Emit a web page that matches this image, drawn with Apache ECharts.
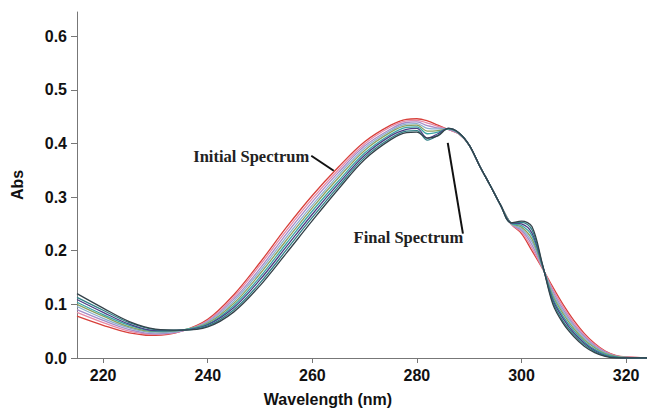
<!DOCTYPE html>
<html>
<head>
<meta charset="utf-8">
<script src="https://cdn.jsdelivr.net/npm/echarts@6/dist/echarts.min.js"></script>
<style>
  html, body { margin: 0; padding: 0; background: #fff; }
  #chart { width: 647px; height: 414px; }
</style>
</head>
<body>
<div id="chart"></div>
<script>
// wavelengths (nm) shared by all spectra
var wavelengths = [215, 220, 225, 230, 235, 240, 245, 250, 255, 260, 265, 270, 275, 278, 280, 282, 284, 286, 288, 290, 292, 294, 296, 298, 300, 302, 304, 306, 308, 310, 312, 314, 316, 318, 320, 324]

// absorbance, initial spectrum first, final spectrum last
var spec0 = [0.078, 0.061, 0.047, 0.042, 0.050, 0.072, 0.118, 0.178, 0.243, 0.303, 0.356, 0.403, 0.434, 0.445, 0.446, 0.442, 0.434, 0.426, 0.418, 0.397, 0.358, 0.322, 0.285, 0.250, 0.232, 0.200, 0.167, 0.132, 0.099, 0.070, 0.046, 0.027, 0.013, 0.005, 0.002, 0]
var spec1 = [0.085, 0.066, 0.050, 0.044, 0.050, 0.070, 0.114, 0.173, 0.237, 0.297, 0.351, 0.399, 0.431, 0.442, 0.443, 0.438, 0.432, 0.426, 0.418, 0.397, 0.358, 0.322, 0.285, 0.250, 0.235, 0.205, 0.168, 0.128, 0.095, 0.066, 0.043, 0.025, 0.012, 0.004, 0.002, 0]
var spec2 = [0.090, 0.070, 0.053, 0.045, 0.050, 0.068, 0.110, 0.167, 0.231, 0.291, 0.346, 0.395, 0.427, 0.439, 0.440, 0.433, 0.429, 0.426, 0.418, 0.397, 0.358, 0.322, 0.285, 0.250, 0.238, 0.211, 0.169, 0.124, 0.090, 0.062, 0.040, 0.023, 0.011, 0.004, 0.001, 0]
var spec3 = [0.096, 0.074, 0.056, 0.047, 0.051, 0.067, 0.106, 0.162, 0.225, 0.285, 0.341, 0.391, 0.424, 0.436, 0.437, 0.428, 0.427, 0.427, 0.419, 0.397, 0.358, 0.322, 0.285, 0.251, 0.241, 0.217, 0.170, 0.120, 0.086, 0.059, 0.037, 0.021, 0.009, 0.003, 0.001, 0]
var spec4 = [0.100, 0.078, 0.058, 0.049, 0.052, 0.065, 0.102, 0.157, 0.219, 0.280, 0.336, 0.387, 0.421, 0.433, 0.434, 0.423, 0.424, 0.427, 0.419, 0.397, 0.358, 0.322, 0.285, 0.251, 0.244, 0.222, 0.171, 0.116, 0.082, 0.055, 0.034, 0.019, 0.008, 0.003, 0.001, 0]
var spec5 = [0.104, 0.081, 0.061, 0.050, 0.052, 0.063, 0.098, 0.151, 0.213, 0.274, 0.330, 0.382, 0.417, 0.430, 0.431, 0.418, 0.421, 0.427, 0.419, 0.397, 0.358, 0.322, 0.285, 0.251, 0.247, 0.228, 0.172, 0.112, 0.077, 0.051, 0.031, 0.016, 0.007, 0.002, 0, 0]
var spec6 = [0.109, 0.085, 0.063, 0.051, 0.052, 0.062, 0.094, 0.146, 0.207, 0.268, 0.325, 0.378, 0.414, 0.426, 0.428, 0.410, 0.418, 0.428, 0.420, 0.397, 0.358, 0.322, 0.285, 0.252, 0.250, 0.233, 0.173, 0.108, 0.073, 0.047, 0.028, 0.014, 0.005, 0.001, 0, 0]
var spec7 = [0.113, 0.089, 0.066, 0.053, 0.052, 0.060, 0.090, 0.140, 0.201, 0.262, 0.320, 0.374, 0.410, 0.423, 0.424, 0.406, 0.415, 0.428, 0.420, 0.397, 0.358, 0.322, 0.285, 0.252, 0.253, 0.239, 0.174, 0.104, 0.068, 0.044, 0.025, 0.012, 0.004, 0.001, 0, 0]
var spec8 = [0.120, 0.093, 0.068, 0.054, 0.052, 0.058, 0.086, 0.135, 0.195, 0.256, 0.315, 0.370, 0.407, 0.420, 0.421, 0.410, 0.414, 0.428, 0.420, 0.397, 0.358, 0.322, 0.285, 0.252, 0.255, 0.245, 0.175, 0.100, 0.064, 0.040, 0.022, 0.010, 0.003, 0, 0, 0]

var spectra = [spec0, spec1, spec2, spec3, spec4, spec5, spec6, spec7, spec8]
var colors = ['#d8403a', '#e58aa8', '#a58cc8', '#8ab0cf', '#8aa060', '#3aa5a5', '#4b3f85', '#2f7f86', '#34424a']

var xTicks = [220, 240, 260, 280, 300, 320]
var yTicks = [0, 0.1, 0.2, 0.3, 0.4, 0.5, 0.6]

// annotation text anchors and pointer lines [x, y]
var noteInitial = [259.6, 0.375]
var noteFinal = [267.7, 0.225]
var pointerInitial = [[259.8, 0.377], [264.1, 0.349]]
var pointerFinal = [[285.9, 0.401], [288.8, 0.232]]

var chart = echarts.init(document.getElementById('chart'), null, { renderer: 'svg' })

var axisFont = { fontFamily: 'Liberation Sans', fontWeight: 'bold', fontSize: 16, color: '#111' }

var series = spectra.map(function(s, i) {
  return {
    type: 'line',
    smooth: 0.35,
    symbol: 'none',
    silent: true,
    lineStyle: { width: 1.3, color: colors[i] },
    data: wavelengths.map(function(w, j) { return [w, s[j]] })
  }
})

series.push({
  type: 'line',
  data: [],
  silent: true,
  markLine: {
    symbol: 'none',
    animation: false,
    label: { show: false },
    lineStyle: { color: '#111', width: 2, type: 'solid' },
    data: [
      [{ coord: pointerInitial[0] }, { coord: pointerInitial[1] }],
      [{ coord: pointerFinal[0] }, { coord: pointerFinal[1] }]
    ]
  },
  markPoint: {
    symbol: 'circle',
    symbolSize: 0,
    animation: false,
    label: {
      show: true,
      fontFamily: 'Liberation Serif',
      fontWeight: 'bold',
      fontSize: 16.5,
      color: '#222',
      distance: 1,
      formatter: function(p) { return p.name }
    },
    data: [
      { name: 'Initial Spectrum', coord: noteInitial, label: { position: 'left' } },
      { name: 'Final Spectrum', coord: noteFinal, label: { position: 'right' } }
    ]
  }
})

var option = {
  animation: false,
  backgroundColor: '#fff',
  title: {
    text: 'Wavelength (nm)',
    left: 328,
    top: 391,
    textAlign: 'center',
    padding: 0,
    textStyle: axisFont
  },
  grid: { left: 77, right: 0, top: 12, bottom: 56 },
  xAxis: {
    type: 'value',
    min: 215,
    max: 324,
    axisLine: { lineStyle: { color: '#777', width: 1 } },
    axisTick: { customValues: xTicks, length: 5, lineStyle: { color: '#777' } },
    axisLabel: Object.assign({ customValues: xTicks, margin: 9 }, axisFont),
    splitLine: { show: false }
  },
  yAxis: {
    type: 'value',
    min: 0,
    max: 0.645,
    name: 'Abs',
    nameLocation: 'middle',
    nameRotate: 90,
    nameGap: 52,
    nameTextStyle: axisFont,
    axisLine: { show: true, lineStyle: { color: '#777', width: 1 } },
    axisTick: { show: true, customValues: yTicks, length: 6, lineStyle: { color: '#777' } },
    axisLabel: Object.assign({
      customValues: yTicks,
      margin: 10,
      formatter: function(v) { return v.toFixed(1) }
    }, axisFont),
    splitLine: { show: false }
  },
  series: series
}

chart.setOption(option)
</script>
</body>
</html>
